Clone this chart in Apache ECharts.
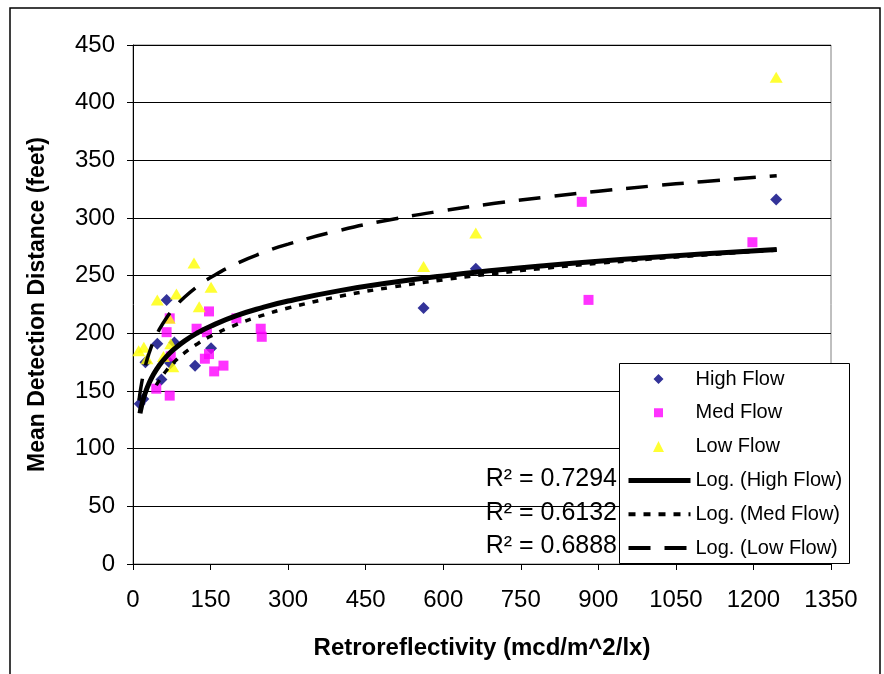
<!DOCTYPE html>
<html>
<head>
<meta charset="utf-8">
<script src="https://cdn.jsdelivr.net/npm/echarts@6/dist/echarts.min.js"></script>
<style>html,body{margin:0;padding:0;background:#fff;}#c{width:884px;height:674px;}</style>
</head>
<body>
<div id="c"></div>
<script>
// ---- data ----
const highFlow = [[13,139],[20,143],[24,175],[47,191],[55,160],[65,229],[72,174],[80,192],[120,172],[151,187],[562,222],[663,256],[1244,316]];
const medFlow = [[45,152],[65,201],[71,213],[71,146],[73,180],[123,204],[143,201],[147,219],[147,182],[139,178],[157,167],[175,172],[200,213],[247,204],[249,197],[868,314],[881,229],[1198,279]];
const lowFlow = [[11,185],[21,188],[27,178],[47,229],[59,180],[70,213],[73,191],[77,171],[84,234],[118,261],[128,223],[151,240],[562,258],[663,287],[1244,422]];

// trend curves
const logHigh = [[13.5,130.6],[16,136.0],[20,143.0],[25,150.0],[30,155.7],[40,164.7],[50,171.7],[65,180.0],[80,186.5],[100,193.5],[125,200.5],[150,206.2],[200,215.3],[250,222.3],[300,228.0],[400,237.0],[500,244.0],[600,249.8],[700,254.6],[800,258.8],[900,262.5],[1000,265.8],[1100,268.8],[1245,272.7]];
const logMed = [[45,155.0],[50,158.7],[65,168.0],[80,175.3],[100,183.2],[125,191.0],[150,197.5],[200,207.6],[250,215.5],[300,222.0],[400,232.1],[500,240.0],[600,246.4],[700,251.9],[800,256.6],[900,260.7],[1000,264.4],[1100,267.8],[1245,272.2]];
const logLow = [[11.6,141.7],[14,149.5],[17,157.6],[20,164.4],[25,173.7],[30,181.3],[40,193.3],[50,202.6],[65,213.6],[80,222.2],[100,231.5],[125,240.8],[150,248.4],[200,260.4],[250,269.7],[300,277.3],[400,289.3],[500,298.7],[600,306.3],[700,312.7],[800,318.2],[900,323.2],[1000,327.6],[1100,331.5],[1245,336.7]];

const seriesNames = ['High Flow','Med Flow','Low Flow','Log. (High Flow)','Log. (Med Flow)','Log. (Low Flow)'];
const rSquared = ['R² = 0.7294','R² = 0.6132','R² = 0.6888'];
const xTitle = 'Retroreflectivity (mcd/m^2/lx)';
const yTitle = 'Mean Detection Distance (feet)';

const FONT = '"Liberation Sans", Arial, sans-serif';
const chart = echarts.init(document.getElementById('c'), null, {renderer:'canvas'});

// legend icons: shape centred in a 62x12 box (corner anchors keep the box size)
const BOX = 'M0,0L0.01,0M62,12L61.99,12';
const iconDiamond = 'path://' + BOX + 'M30,1L35,6L30,11L25,6Z';
const iconSquare = 'path://' + BOX + 'M25.5,1.5L34.5,1.5L34.5,10.5L25.5,10.5Z';
const iconTriangle = 'path://' + BOX + 'M30,0.5L35.5,11.5L24.5,11.5Z';

const rowY = [480, 514, 547];
const noSym = {color:'rgba(0,0,0,0)', borderColor:'rgba(0,0,0,0)', borderWidth:0, opacity:0};

chart.setOption({
  animation: false,
  backgroundColor: '#fff',
  grid: {left:133, top:45, width:698, height:519, show:true, borderColor:'#808080', borderWidth:1, containLabel:false},
  xAxis: {
    type:'value', min:0, max:1350, interval:150,
    name: xTitle, nameLocation:'middle', nameGap:84,
    nameTextStyle:{fontFamily:FONT, fontSize:24, fontWeight:'bold', color:'#000', verticalAlign:'middle'},
    axisLine:{show:true, onZero:false, lineStyle:{color:'#000', width:1}},
    axisTick:{show:true, inside:false, length:6, lineStyle:{color:'#000'}},
    axisLabel:{fontFamily:FONT, fontSize:24, color:'#000', margin:24, formatter: v => String(v)},
    splitLine:{show:false}
  },
  yAxis: {
    type:'value', min:0, max:450, interval:50,
    name: yTitle, nameLocation:'middle', nameGap:95, nameRotate:90,
    nameTextStyle:{fontFamily:FONT, fontSize:23, fontWeight:'bold', color:'#000', verticalAlign:'middle'},
    axisLine:{show:true, onZero:false, lineStyle:{color:'#000', width:1}},
    axisTick:{show:true, inside:false, length:6, lineStyle:{color:'#000'}},
    axisLabel:{fontFamily:FONT, fontSize:24, color:'#000', margin:18, formatter: v => String(v)},
    splitLine:{show:true, lineStyle:{color:'#000', width:1}}
  },
  legend: {
    orient:'vertical', left:626, top:369, padding:0,
    itemWidth:62, itemHeight:12, itemGap:13.8, symbolKeepAspect:false,
    textStyle:{fontFamily:FONT, fontSize:20, color:'#000'},
    data: [
      {name:seriesNames[0], icon:iconDiamond},
      {name:seriesNames[1], icon:iconSquare},
      {name:seriesNames[2], icon:iconTriangle},
      {name:seriesNames[3], itemStyle:noSym, lineStyle:{color:'#000', width:5, type:'solid'}},
      {name:seriesNames[4], itemStyle:noSym, lineStyle:{color:'#000', width:4, type:[7,8]}},
      {name:seriesNames[5], itemStyle:noSym, lineStyle:{color:'#000', width:4, type:[22,14]}}
    ]
  },
  graphic: [
    {type:'rect', z:-10, silent:true, shape:{x:10, y:8, width:870, height:700}, style:{fill:'none', stroke:'#000', lineWidth:1.5}},
    {type:'rect', z:3, silent:true, shape:{x:619.5, y:363.5, width:230, height:200}, style:{fill:'#fff', stroke:'#000', lineWidth:1}},
    {type:'text', z:3, right:884-617, top:rowY[0]-13, style:{text:rSquared[0], font:'25px '+FONT, fill:'#000'}},
    {type:'text', z:3, right:884-617, top:rowY[1]-13, style:{text:rSquared[1], font:'25px '+FONT, fill:'#000'}},
    {type:'text', z:3, right:884-617, top:rowY[2]-13, style:{text:rSquared[2], font:'25px '+FONT, fill:'#000'}}
  ],
  series: [
    {name:seriesNames[0], type:'scatter', data:highFlow, symbol:'diamond', symbolSize:12, itemStyle:{color:'#000080'}, z:2},
    {name:seriesNames[1], type:'scatter', data:medFlow, symbol:'rect', symbolSize:10, itemStyle:{color:'#FF00FF'}, z:2},
    {name:seriesNames[2], type:'scatter', data:lowFlow, symbol:'triangle', symbolSize:[13,11], itemStyle:{color:'#FFFF00'}, z:2},
    {name:seriesNames[3], type:'line', data:logHigh, smooth:true, symbol:'none', showSymbol:false, itemStyle:noSym, lineStyle:{color:'#000', width:5, type:'solid'}, z:5},
    {name:seriesNames[4], type:'line', data:logMed, smooth:true, symbol:'none', showSymbol:false, itemStyle:noSym, lineStyle:{color:'#000', width:3.5, type:[6,8]}, z:5},
    {name:seriesNames[5], type:'line', data:logLow, smooth:true, symbol:'none', showSymbol:false, itemStyle:noSym, lineStyle:{color:'#000', width:3.5, type:[22,14]}, z:5}
  ]
});
</script>
</body>
</html>
